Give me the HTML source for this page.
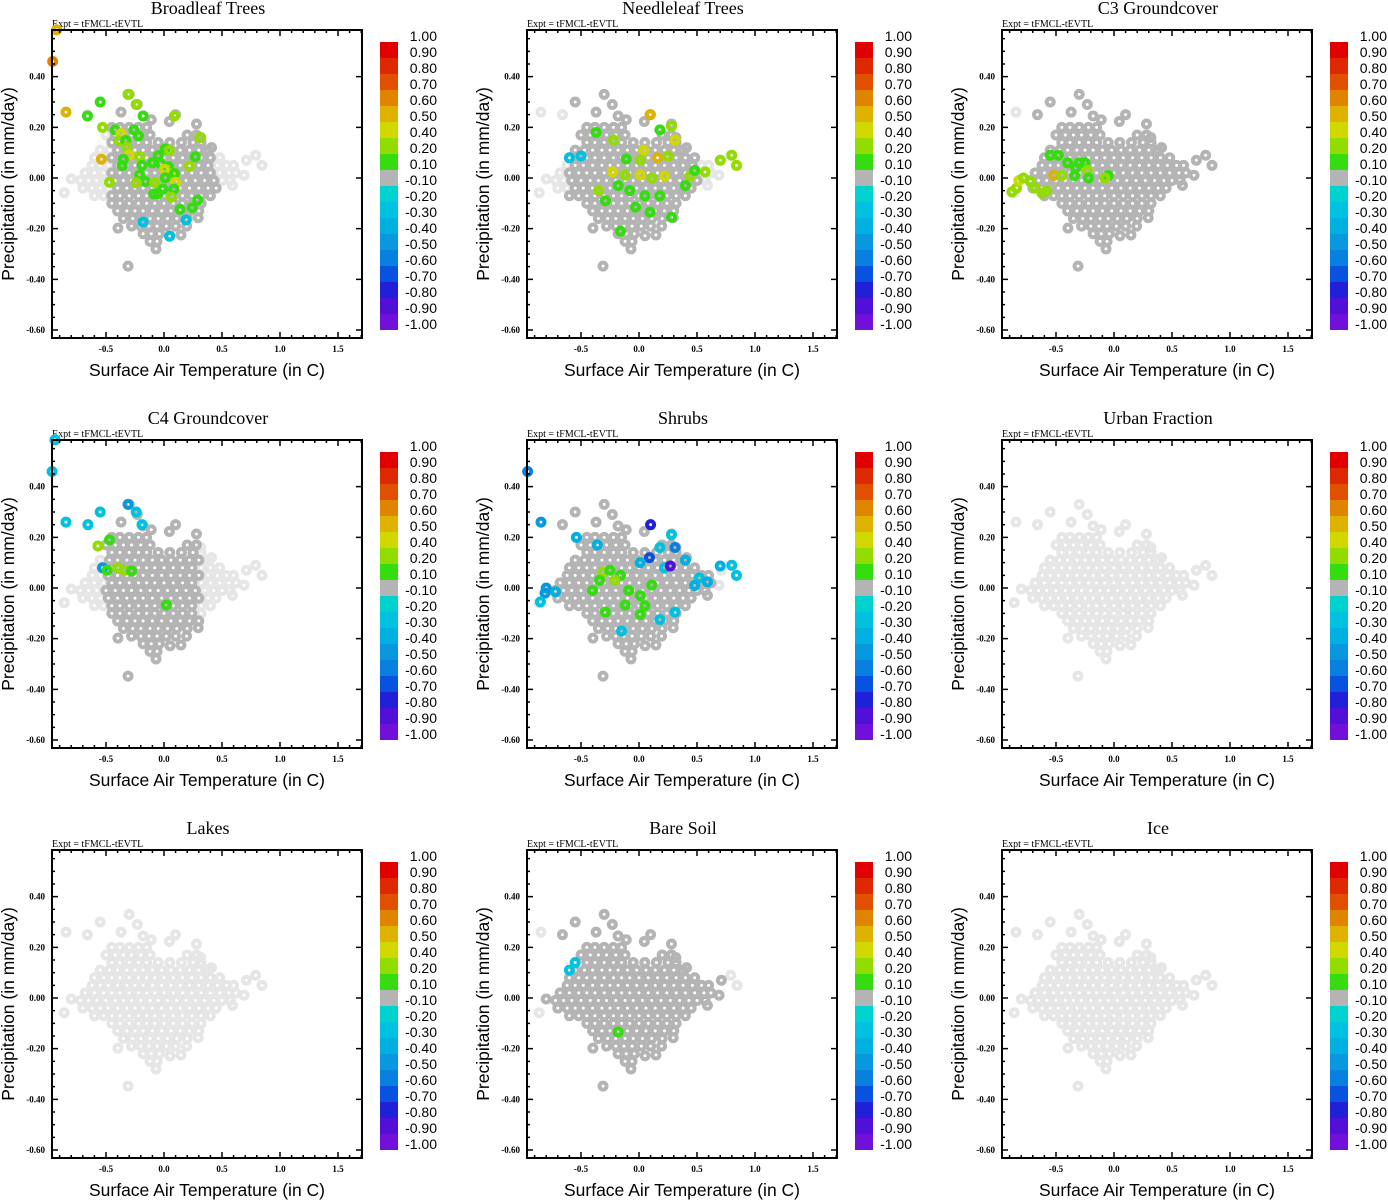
<!DOCTYPE html>
<html><head><meta charset="utf-8"><style>
html,body{margin:0;padding:0;background:#fff;}
svg{display:block;}
.ttl{font-family:"Liberation Serif",serif;font-size:18px;}
.expt{font-family:"Liberation Serif",serif;font-size:10px;}
.tk{font-family:"Liberation Serif",serif;font-size:9px;font-weight:bold;}
.ax{font-family:"Liberation Sans",sans-serif;font-size:17.5px;}
.cb{font-family:"Liberation Sans",sans-serif;font-size:14px;}
</style></head><body>
<svg id="chart" width="1388" height="1200" xmlns="http://www.w3.org/2000/svg"></svg>
<script>
const panelTitles = ["Broadleaf Trees","Needleleaf Trees","C3 Groundcover","C4 Groundcover","Shrubs","Urban Fraction","Lakes","Bare Soil","Ice"];
const xTicks = [-0.5,0,0.5,1.0,1.5];
const xTickLabels = ["-0.5","0.0","0.5","1.0","1.5"];
const yTicks = [0.4,0.2,0,-0.2,-0.4,-0.6];
const yTickLabels = ["0.40","0.20","0.00","-0.20","-0.40","-0.60"];
const cbBounds = [1.0,0.9,0.8,0.7,0.6,0.5,0.4,0.2,0.1,-0.1,-0.2,-0.3,-0.4,-0.5,-0.6,-0.7,-0.8,-0.9,-1.0];
const cbLabels = ["1.00","0.90","0.80","0.70","0.60","0.50","0.40","0.20","0.10","-0.10","-0.20","-0.30","-0.40","-0.50","-0.60","-0.70","-0.80","-0.90","-1.00"];
const cbColors = ["#e00000","#dd2800","#e05000","#e08400","#dfb200","#d0d800","#92dc00","#34dc10","#b4b4b4","#00d2d0","#00c2e0","#00b0e0","#0898e0","#0880e0","#0852e0","#2020d8","#5010d8","#7010d8"];
const outliers = [[-0.30,0.33],[-0.55,0.30],[-0.845,0.26],[-0.66,0.25],[-0.37,0.26],[-0.23,0.29],[-0.18,0.245],[-0.11,0.23],[0.10,0.25],[0.046,0.223],[0.28,0.213],[0.318,0.16],[0.41,0.12],[0.79,0.09],[0.845,0.05],[0.71,0.07],[0.69,0.011],[0.59,-0.029],[-0.86,-0.058],[-0.80,-0.004],[-0.397,-0.198],[-0.31,-0.348],[-0.069,-0.28],[0.052,-0.228],[0.146,-0.225],[0.195,-0.19],[0.295,-0.157]];
const coreRows = [
 [0.20,[-0.45,-0.38,-0.30,-0.22,-0.15]],
 [0.17,[-0.50,-0.42,-0.35,-0.28,-0.20,-0.12,0.20,0.28]],
 [0.14,[-0.45,-0.38,-0.30,-0.22,-0.15,-0.05,0.05,0.15,0.25,0.32]],
 [0.11,[-0.55,-0.47,-0.40,-0.32,-0.25,-0.18,-0.10,-0.02,0.06,0.14,0.22,0.30,0.38]],
 [0.08,[-0.60,-0.52,-0.45,-0.38,-0.30,-0.22,-0.15,-0.08,0.0,0.08,0.16,0.24,0.32,0.40,0.48]],
 [0.05,[-0.62,-0.55,-0.48,-0.40,-0.32,-0.25,-0.18,-0.10,-0.02,0.06,0.14,0.22,0.30,0.38,0.46,0.54,0.60]],
 [0.02,[-0.68,-0.60,-0.52,-0.45,-0.38,-0.30,-0.22,-0.15,-0.08,0.0,0.08,0.16,0.24,0.32,0.40,0.48,0.56,0.62]],
 [-0.01,[-0.72,-0.65,-0.58,-0.50,-0.42,-0.35,-0.28,-0.20,-0.12,-0.05,0.03,0.11,0.19,0.27,0.35,0.43,0.50,0.57]],
 [-0.04,[-0.70,-0.62,-0.55,-0.48,-0.40,-0.32,-0.25,-0.18,-0.10,-0.02,0.06,0.14,0.22,0.30,0.38,0.45]],
 [-0.07,[-0.60,-0.52,-0.45,-0.38,-0.30,-0.22,-0.15,-0.08,0.0,0.08,0.16,0.24,0.32,0.40]],
 [-0.10,[-0.45,-0.38,-0.30,-0.22,-0.15,-0.08,0.0,0.08,0.16,0.24,0.32]],
 [-0.13,[-0.40,-0.32,-0.25,-0.18,-0.10,-0.02,0.06,0.14,0.22,0.30]],
 [-0.16,[-0.35,-0.27,-0.20,-0.12,-0.05,0.03,0.11,0.20]],
 [-0.19,[-0.28,-0.20,-0.13,-0.06,0.02,0.10]],
 [-0.22,[-0.18,-0.11,-0.04]],
 [-0.25,[-0.12,-0.06]]
];
// x range of cloud points shown as insignificant (mid grey) per panel
const darkBounds = [[-0.45,0.45],[-0.6,0.5],[-0.75,0.9],[-0.5,0.3],[-0.75,0.65],[9,9],[9,9],[-0.8,0.75],[9,9]];
const pts0 = [[-0.925,0.585,0.55],[-0.96,0.46,0.65],[-0.845,0.26,0.55],[-0.55,0.30,0.15],[-0.66,0.245,0.15],[-0.31,0.33,0.3],[-0.24,0.29,0.3],[-0.18,0.245,0.15],[0.09,0.245,0.3],[0.31,0.16,0.3],[-0.53,0.20,0.3],[-0.42,0.19,0.15],[-0.37,0.175,0.45],[-0.39,0.147,0.35],[-0.33,0.148,0.15],[-0.26,0.19,0.15],[-0.22,0.166,0.15],[-0.32,0.122,0.3],[-0.30,0.091,0.45],[-0.54,0.074,0.55],[-0.35,0.074,0.15],[-0.36,0.049,0.15],[-0.21,0.084,0.3],[-0.19,0.05,0.15],[0.01,0.115,0.15],[0.046,0.108,0.3],[-0.05,0.088,0.15],[-0.10,0.06,0.15],[-0.03,0.057,0.15],[0.038,0.045,0.15],[0.003,0.034,0.45],[0.052,0.016,0.4],[0.09,0.018,0.15],[0.22,0.047,0.3],[0.27,0.084,0.15],[-0.21,0.012,0.15],[-0.16,-0.014,0.15],[-0.08,-0.018,0.3],[-0.24,-0.019,0.3],[-0.47,-0.017,0.3],[0.01,0.001,0.15],[0.10,-0.017,0.45],[-0.009,-0.044,0.15],[0.085,-0.044,0.15],[-0.089,-0.063,0.15],[-0.05,-0.061,0.15],[0.063,-0.076,0.3],[0.29,-0.087,0.15],[0.138,-0.124,0.15],[0.244,-0.117,0.15],[0.19,-0.166,-0.25],[-0.18,-0.174,-0.25],[0.048,-0.23,-0.25]];
const pts1 = [[-0.60,0.08,-0.25],[-0.5,0.087,-0.25],[0.095,0.25,0.5],[-0.37,0.18,0.15],[-0.22,0.15,0.3],[0.04,0.11,0.45],[0.18,0.19,0.15],[0.28,0.205,0.3],[0.31,0.15,0.45],[-0.11,0.075,0.15],[0.01,0.07,0.3],[0.16,0.08,0.55],[0.25,0.087,0.3],[-0.23,0.024,0.45],[-0.12,0.012,0.3],[0.01,0.012,0.45],[0.11,0.0,0.3],[0.22,0.008,0.45],[0.44,0.008,0.3],[0.57,0.024,0.3],[0.70,0.07,0.3],[0.80,0.09,0.3],[0.84,0.05,0.3],[-0.18,-0.03,0.15],[-0.08,-0.05,0.15],[0.05,-0.07,0.15],[0.18,-0.07,0.15],[-0.03,-0.115,0.15],[0.095,-0.135,0.15],[0.28,-0.155,0.15],[-0.16,-0.21,0.15],[-0.35,-0.05,0.3],[-0.29,-0.09,0.15],[0.40,-0.03,0.15],[0.48,0.03,0.15]];
const pts2 = [[-0.88,-0.055,0.3],[-0.84,-0.04,0.3],[-0.82,-0.01,0.45],[-0.78,0.0,0.3],[-0.72,-0.015,0.3],[-0.68,-0.04,0.3],[-0.62,-0.06,0.3],[-0.58,-0.05,0.3],[-0.52,0.01,0.55],[-0.45,0.01,0.3],[-0.48,0.09,0.15],[-0.40,0.06,0.15],[-0.33,0.04,0.15],[-0.30,0.06,0.15],[-0.25,0.06,0.15],[-0.34,0.01,0.15],[-0.23,0.03,0.3],[-0.22,0.0,0.15],[-0.05,0.01,0.15],[-0.08,0.0,0.3],[-0.55,0.09,0.15]];
const pts3 = [[-0.94,0.585,-0.25],[-0.965,0.46,-0.25],[-0.845,0.26,-0.25],[-0.655,0.25,-0.25],[-0.55,0.30,-0.25],[-0.31,0.33,-0.45],[-0.24,0.30,-0.25],[-0.19,0.25,-0.25],[-0.57,0.166,0.3],[-0.47,0.19,0.15],[-0.53,0.08,-0.45],[-0.49,0.07,0.15],[-0.40,0.08,0.3],[-0.34,0.07,0.3],[-0.28,0.067,0.15],[0.02,-0.067,0.15]];
const pts4 = [[-0.96,0.46,-0.55],[-0.845,0.26,-0.45],[-0.80,0.0,-0.45],[-0.81,-0.02,-0.45],[-0.85,-0.055,-0.25],[-0.72,-0.015,-0.35],[-0.54,0.20,-0.35],[-0.36,0.17,-0.35],[0.10,0.25,-0.75],[0.09,0.12,-0.65],[0.18,0.16,-0.25],[0.28,0.21,-0.25],[0.31,0.16,-0.55],[0.01,0.1,-0.35],[0.22,0.08,-0.25],[0.27,0.087,-0.85],[0.40,0.11,-0.35],[0.52,0.04,-0.3],[0.59,0.024,-0.35],[0.70,0.087,-0.35],[0.80,0.09,-0.3],[0.84,0.05,-0.3],[0.48,0.01,-0.4],[0.31,-0.095,-0.25],[0.18,-0.125,-0.25],[-0.31,0.063,0.3],[-0.34,0.03,0.15],[-0.40,-0.01,0.15],[-0.25,0.07,0.15],[-0.16,0.05,0.15],[-0.21,0.03,0.3],[-0.09,-0.01,0.15],[0.01,-0.03,0.15],[-0.12,-0.067,0.15],[0.11,0.012,0.15],[0.05,-0.07,0.15],[0.01,-0.105,0.15],[-0.15,-0.17,-0.25],[-0.29,-0.095,0.15]];
const pts5 = [];
const pts6 = [];
const pts7 = [[-0.18,-0.134,0.15],[-0.55,0.14,-0.25],[-0.6,0.11,-0.3]];
const pts8 = [];
const panelPoints = [pts0,pts1,pts2,pts3,pts4,pts5,pts6,pts7,pts8];

const svg = document.getElementById('chart');
const NS = "http://www.w3.org/2000/svg";
function mk(tag, attrs, parent, text){
  const e = document.createElementNS(NS, tag);
  for (const k in attrs) e.setAttribute(k, attrs[k]);
  if (text !== undefined) e.textContent = text;
  parent.appendChild(e); return e;
}
const L=52,R=362,T=30,B=338;
const RR=3.5, SW=4;
function sx(v){ return 164 + v*116; }
function sy(v){ return 178 - v*253.3; }
function colorFor(v){
  for (let i=0;i<cbColors.length;i++){ if (v<=cbBounds[i] && v>=cbBounds[i+1]) return cbColors[i]; }
  return cbColors[cbColors.length-1];
}
const cloud = outliers.slice();
coreRows.forEach(r => r[1].forEach(x => cloud.push([x, r[0]])));

panelTitles.forEach((title, p) => {
  const ox = (p%3)*475, oy = Math.floor(p/3)*410;
  const g = mk('g', {transform:`translate(${ox},${oy})`}, svg);
  
  
  const t = mk('text', {x:208, y:14, 'text-anchor':'middle', class:'ttl'}, g, title);
  
  
  const ex = mk('text', {x:52, y:27, class:'expt'}, g, 'Expt = tFMCL-tEVTL');
  
  
  const cid = 'clip'+p;
  const cp = mk('clipPath', {id:cid}, g); mk('rect',{x:L-6,y:T-6,width:R-L+12,height:B-T+12},cp);
  const pg = mk('g', {'clip-path':`url(#${cid})`}, g);
  
  
  const db = darkBounds[p];
  const light = [], dark = [];
  cloud.forEach(c => { (c[0]>=db[0] && c[0]<=db[1]) ? dark.push(c) : light.push(c); });
  light.concat(dark).forEach(c => {
    const isDark = c[0]>=db[0] && c[0]<=db[1];
    const e = mk('circle', {cx:sx(c[0]), cy:sy(c[1]), r:RR, fill:'none', stroke:isDark?'#b4b4b4':'#e6e6e6', 'stroke-width':SW}, pg);
    
    
  });
  panelPoints[p].forEach(c => {
    const e = mk('circle', {cx:sx(c[0]), cy:sy(c[1]), r:RR, fill:'none', stroke:colorFor(c[2]), 'stroke-width':SW}, pg);
    
    
  });
  const fr = mk('rect', {x:L, y:T, width:R-L, height:B-T, fill:'none', stroke:'#000', 'stroke-width':2}, g);
  
  
  let d = '';
  for (let v=-0.9; v<=1.71; v+=0.1){ const x=sx(v); if(x<=L||x>=R) continue; d+=`M${x} ${B}v-3M${x} ${T}v3`; }
  xTicks.forEach(v => { const x=sx(v); d+=`M${x} ${B}v-6M${x} ${T}v6`; });
  for (let v=-0.6; v<=0.59; v+=0.05){ const y=sy(v); if(y<=T||y>=B) continue; d+=`M${L} ${y}h3`; }
  yTicks.forEach(v => { const y=sy(v); d+=`M${L} ${y}h6M${R} ${y}h-6`; });
  const tk = mk('path', {d:d, stroke:'#000', 'stroke-width':1.5, fill:'none'}, g);
  
  
  xTicks.forEach((v,i) => {
    const e = mk('text', {x:sx(v), y:352, 'text-anchor':'middle', class:'tk'}, g, xTickLabels[i]);
    
    
  });
  yTicks.forEach((v,i) => {
    const e = mk('text', {x:45, y:sy(v)+3, 'text-anchor':'end', class:'tk'}, g, yTickLabels[i]);
    
    
  });
  const xt = mk('text', {x:207, y:376, 'text-anchor':'middle', class:'ax'}, g, 'Surface Air Temperature (in C)');
  
  
  const yt = mk('text', {x:0, y:0, 'text-anchor':'middle', class:'ax', transform:'translate(14,184) rotate(-90)'}, g, 'Precipitation (in mm/day)');
  
  
  const cb = mk('g', {}, g);
  
  
  cbColors.forEach((c,i) => {
    const e = mk('rect', {x:380, y:42+i*16, width:18, height:16, fill:c}, cb);
    
    
  });
  cbLabels.forEach((lab,i) => {
    const e = mk('text', {x:437, y:41+i*16, 'text-anchor':'end', class:'cb'}, cb, lab);
    
    
  });
});
</script>
</body></html>
